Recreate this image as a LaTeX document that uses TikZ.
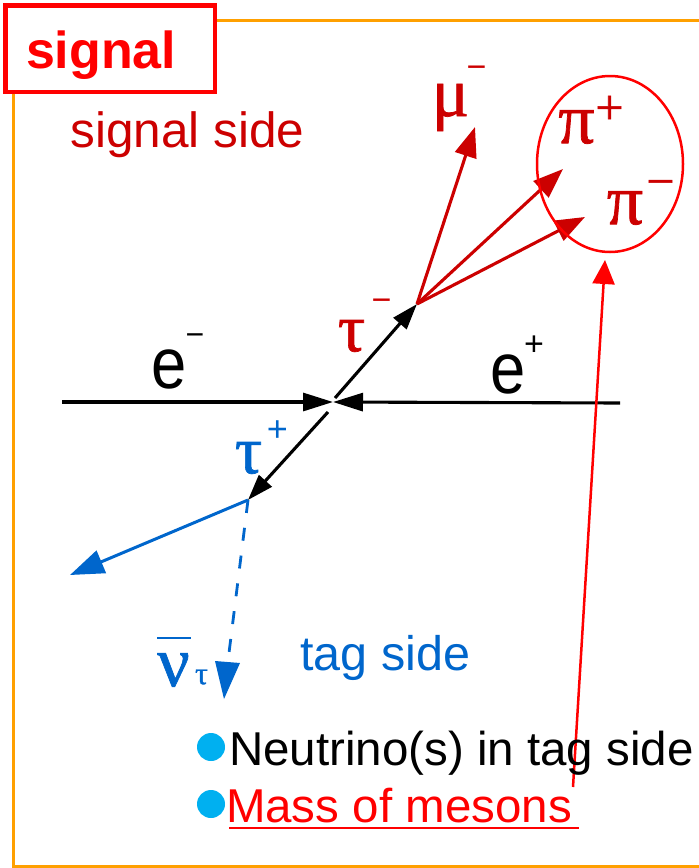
\documentclass[tikz,border=0pt]{standalone}
\usepackage{fontspec}
\setmainfont{Liberation Sans}
\newfontfamily\grk[FakeBold=1]{Liberation Serif}
\usetikzlibrary{arrows.meta,shapes.geometric}
\newcommand\myfs[1]{\fontsize{#1}{#1}\selectfont}
\definecolor{dred}{HTML}{CC0000}
\definecolor{bred}{HTML}{FF0000}
\definecolor{tblue}{HTML}{0066CC}
\definecolor{frameor}{HTML}{FFA000}
\definecolor{bullet}{HTML}{00B0F0}
\tikzset{
  lbl/.style={inner sep=0pt, outer sep=0pt},
  blackarr/.style={line width=3.1pt, black, -{Triangle[length=30pt,width=18pt]}},
  redarr/.style={line width=3.1pt, dred, -{Triangle[length=30pt,width=22pt]}},
  bluearr/.style={line width=3pt, tblue, -{Triangle[length=34pt,width=24pt]}},
}
\begin{document}
\begin{tikzpicture}[x=1pt,y=-1pt]
\useasboundingbox (0,0) rectangle (699,868);
% orange frame
\draw[frameor, line width=3pt] (13,20) rectangle (730,866.5);
% signal box
\node[lbl, draw=bred, line width=4.5pt, fill=white, minimum width=209.5pt, minimum height=86.5pt, anchor=north west] (sigbox) at (5.25,5.25) {};
\node[lbl, anchor=base west, text=bred] (sig) at (26,68) {\myfs{52}\bfseries signal};
\node[lbl, anchor=base west, text=dred] (sigside) at (70.5,147) {\myfs{49.5}signal side};
\node[lbl, anchor=base west, text=tblue] (tagside) at (300.5,670) {\myfs{48.5}tag side};

% coordinates
\coordinate (vtx) at (333,402);
\coordinate (eL) at (62,402);
\coordinate (eR) at (620,403);
\coordinate (tmS) at (335,398);
\coordinate (tm) at (417,304);
\coordinate (tpS) at (328,412);
\coordinate (tp) at (248,500);
\coordinate (piE) at (70,575);
\coordinate (nuE) at (228,661);
\coordinate (muT) at (475,127);
\coordinate (ppT) at (563,169);
\coordinate (pmT) at (585,217);
\coordinate (msB) at (573,787);
\coordinate (msT) at (605,260);

% beam
\draw[blackarr] (eL) -- (vtx);
\draw[blackarr] (eR) -- (vtx);
\draw[blackarr, -{Triangle[length=26pt,width=17pt]}] (tmS) -- (tm);
\draw[blackarr, -{Triangle[length=26pt,width=17pt]}] (tpS) -- (tp);
% tag side
\draw[bluearr] (tp) -- (piE);
\draw[tblue, line width=2.8pt, dash pattern=on 13pt off 15pt] (tp) -- (nuE);
\fill[tblue] (215,661) -- (240,663) -- (224,699) -- cycle;
% signal side
\draw[redarr] (tm) -- (muT);
\draw[redarr] (tm) -- (ppT);
\draw[redarr] (tm) -- (pmT);
% ellipse
\node[lbl, draw=bred, line width=2.5pt, ellipse, minimum width=146pt, minimum height=176pt] (ell) at (610,164) {};
% mass arrow
\draw[bred, line width=2.5pt, -{Triangle[length=24pt,width=22pt]}] (msB) -- (msT);

% labels
\node[lbl, anchor=base west] (em) at (151,388) {\myfs{72}\scalebox{0.88}[1]{e}};
\node[lbl] (emsup) at (195,340) {\myfs{32}−};
\node[lbl, anchor=base west] (ep) at (490,393) {\myfs{72}\scalebox{0.88}[1]{e}};
\node[lbl] (epsup) at (534,346) {\myfs{34}+};
\node[lbl, text=dred] (taum) at (351.5,336) {\grk\myfs{68}τ};
\node[lbl, text=dred] (taumsup) at (381.5,305) {\myfs{34}−};
\node[lbl, text=tblue] (taup) at (248.5,458) {\grk\myfs{68}τ};
\node[lbl, text=tblue] (taupsup) at (277.5,431) {\myfs{36}+};
\node[lbl, text=dred] (mu) at (450.5,107.5) {\grk\myfs{70}μ};
\node[lbl, text=dred] (musup) at (476.5,72) {\myfs{34}−};
\node[lbl, text=dred] (pip) at (576.5,127) {\grk\myfs{72}π};
\node[lbl, text=dred] (pipsup) at (609.5,110) {\grk\myfs{50}+};
\node[lbl, text=dred] (pim) at (625,208) {\grk\myfs{72}π};
\node[lbl, text=dred] (pimsup) at (660.5,189) {\grk\myfs{50}−};
\node[lbl, text=tblue] (nu) at (173.5,670) {\grk\myfs{72}ν};
\draw[tblue, line width=2.8pt] (157,638) -- (191,638);
\node[lbl, text=tblue] (nusub) at (201.5,677) {\grk\myfs{32}τ};

% bullets
\fill[bullet] (211,747) circle (14);
\fill[bullet] (211,804) circle (14);
\node[lbl, anchor=base west] (b1) at (229,765) {\myfs{47.5}Neutrino(s) in tag side};
\node[lbl, anchor=base west, text=bred] (b2) at (226,822) {\myfs{47.5}Mass of mesons};
\draw[bred, line width=2.5pt] (229,828) -- (579,828);
\end{tikzpicture}
\end{document}
